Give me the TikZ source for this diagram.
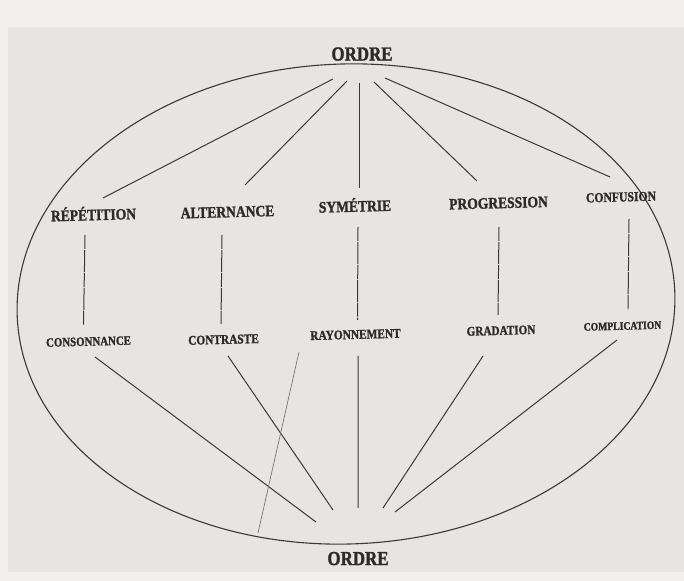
\documentclass[tikz,border=0pt]{standalone}
\usepackage{fontspec}
\usepackage{tikz}
\usetikzlibrary{calc}
\newfontfamily\platefont[FakeStretch=0.85, BoldFeatures={FakeBold=1.4}]{Liberation Serif}
\definecolor{plateInk}{RGB}{44,43,41}
\definecolor{plateLine}{RGB}{58,57,54}
\definecolor{plateFaint}{RGB}{120,119,115}
\definecolor{platePaper}{RGB}{230,229,225}
\definecolor{plateMargin}{RGB}{241,240,236}

\tikzset{
  term/.style={font=\platefont\bfseries\fontsize{#1}{#1}\selectfont, text=plateInk,
    inner sep=0pt, text height={0.66*#1pt}, text depth=0pt},
  term/.default=16,
  tilt/.style={rotate=1.5},
  link/.style={draw=plateLine, line width=1bp},
  tie/.style={link, dash pattern=on 14bp off 1bp on 22bp off 0.8bp},
}

\begin{document}
\begin{tikzpicture}[x=1bp, y=1bp]
  \fill[plateMargin] (0,0) rectangle (684,581);
  \fill[platePaper] (8,9) rectangle (684,554);
  \useasboundingbox (0,0) rectangle (684,581);

  % outer oval
  \draw[link, line width=1.1bp, rotate around={2:(346,277)}] (346,277) ellipse [x radius=329, y radius=240];

  % top and bottom
  \node[term=20] (otop) at (362,527) {ORDRE};
  \node[term=20] (obot) at (358,22.5) {ORDRE};

  % first row
  \node[term, tilt] (rep) at (93.5,366) {RÉPÉTITION};
  \node[term, tilt] (alt) at (227.5,369) {ALTERNANCE};
  \node[term, tilt] (sym) at (355,374.5) {SYMÉTRIE};
  \node[term, tilt] (pro) at (498.5,378) {PROGRESSION};
  \node[term=13.8, tilt] (con) at (621,384) {CONFUSION};

  % second row
  \node[term=12.8, tilt] (cso) at (88.5,239.5) {CONSONNANCE};
  \node[term=13.4, tilt] (ctr) at (223.5,241.5) {CONTRASTE};
  \node[term=13.4, tilt] (ray) at (355.5,246.5) {RAYONNEMENT};
  \node[term=13.2, tilt] (gra) at (501,250.5) {GRADATION};
  \node[term=11.4, tilt] (cpl) at (622.5,255) {COMPLICATION};

  % fan from the top
  \draw[link] ([shift={(-29,-25)}]otop.center) -- ([shift={(9.5,17)}]rep.center);
  \draw[link] ([shift={(-15,-27)}]otop.center) -- ([shift={(17.5,27)}]alt.center);
  \draw[link] ([shift={(-3,-29)}]otop.center) -- ([shift={(4,18.5)}]sym.center);
  \draw[link] ([shift={(12,-28)}]otop.center) -- ([shift={(-21.5,22)}]pro.center);
  \draw[link] ([shift={(23,-24)}]otop.center) -- ([shift={(-11,20)}]con.center);

  % row to row
  \draw[tie] ([shift={(-8.5,-20)}]rep.center) -- ([shift={(-5,16.5)}]cso.center);
  \draw[tie] ([shift={(-5.5,-23)}]alt.center) -- ([shift={(-2.5,15.5)}]ctr.center);
  \draw[tie] ([shift={(3,-20.5)}]sym.center) -- ([shift={(2,14.5)}]ray.center);
  \draw[tie] ([shift={(0.5,-24)}]pro.center) -- ([shift={(-3,15.5)}]gra.center);
  \draw[tie] ([shift={(8,-22)}]con.center) -- ([shift={(5.5,16)}]cpl.center);

  % fan to the bottom
  \draw[link] ([shift={(6.5,-15.5)}]cso.center) -- ([shift={(-42,36.5)}]obot.center);
  \draw[link] ([shift={(4.5,-16.5)}]ctr.center) -- ([shift={(-25,48.5)}]obot.center);
  \draw[link] ([shift={(2.5,-21.5)}]ray.center) -- ([shift={(0,50.5)}]obot.center);
  \draw[link] ([shift={(-18,-25.5)}]gra.center) -- ([shift={(25,50.5)}]obot.center);
  \draw[link] ([shift={(-5.5,-14)}]cpl.center) -- ([shift={(37,46.5)}]obot.center);

  % loose stroke across the lower fan
  \coordinate (strayA) at (299,229);
  \coordinate (strayB) at (258,48);
  \draw[plateFaint, line width=0.7bp] (strayA) -- (strayB);
\end{tikzpicture}
\end{document}
